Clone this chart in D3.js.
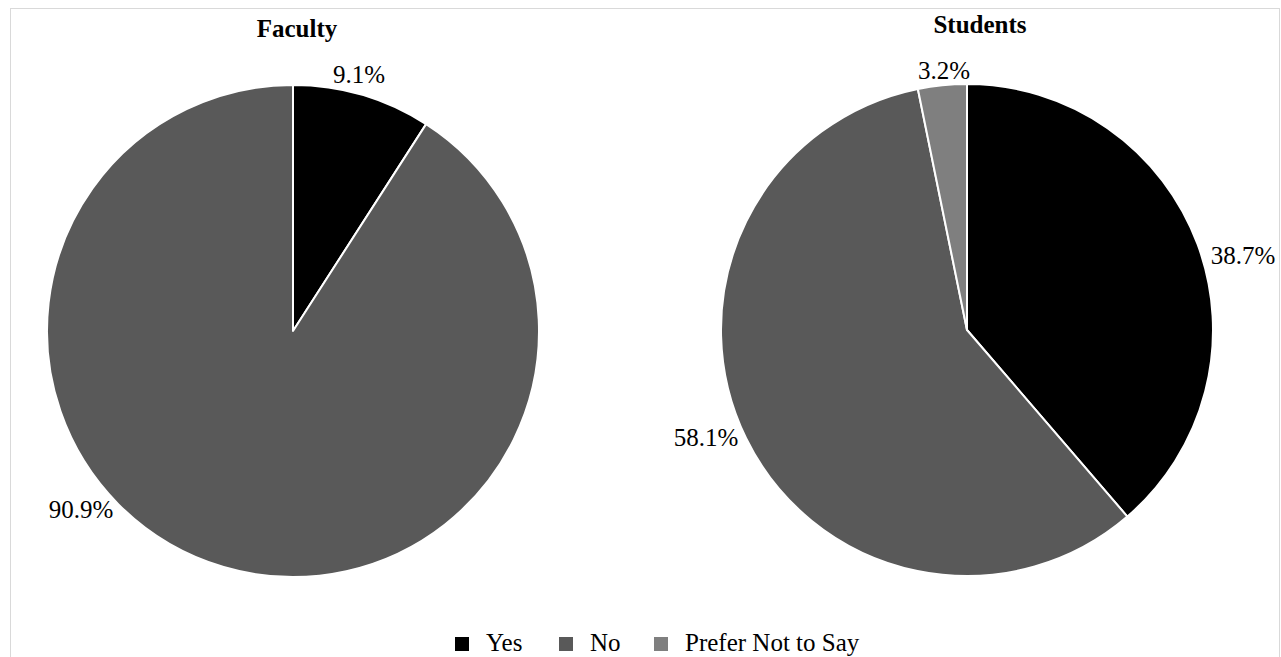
<!DOCTYPE html>
<html>
<head>
<meta charset="utf-8">
<script src="https://cdn.jsdelivr.net/npm/d3@7"></script>
<style>
  html, body { margin: 0; padding: 0; background: #fff; }
  svg { display: block; }
</style>
</head>
<body>
<svg id="chart" width="1281" height="657"></svg>
<script>
// ---- data ----
const categories = ["Yes", "No", "Prefer Not to Say"];
const chartTitles = ["Faculty", "Students"];
const facultyValues = [9.1, 90.9, 0];
const studentValues = [38.7, 58.1, 3.2];
const colors = ["#000000", "#595959", "#7f7f7f"];

// ---- layout (not data) ----
const W = 1281, H = 657;
const FONT = "'Liberation Serif', 'Times New Roman', serif";
const panels = [
  { values: facultyValues, cx: 293, cy: 331, r: 246, titleX: 297, titleY: 37,
    labelOffsets: [[66, -257], [-212, 178], null] },
  { values: studentValues, cx: 967, cy: 330, r: 246, titleX: 980, titleY: 33,
    labelOffsets: [[276, -75], [-261, 107], [-23, -260]] }
];

const svg = d3.select("#chart");

// outer border
svg.append("rect")
  .attr("x", 10.5).attr("y", 8.5)
  .attr("width", 1269).attr("height", 700)
  .attr("fill", "#fff")
  .attr("stroke", "#d9d9d9").attr("stroke-width", 1);

const pie = d3.pie().sort(null).value(d => d);

panels.forEach((p, pi) => {
  const g = svg.append("g").attr("transform", `translate(${p.cx},${p.cy})`);
  const arc = d3.arc().innerRadius(0).outerRadius(p.r);
  const arcs = pie(p.values);

  g.selectAll("path.slice")
    .data(arcs.filter(a => a.value > 0))
    .join("path")
    .attr("class", "slice")
    .attr("d", arc)
    .attr("fill", d => colors[d.index])
    .attr("stroke", "#ffffff")
    .attr("stroke-width", 2)
    .attr("stroke-linejoin", "round");

  g.selectAll("text.lbl")
    .data(arcs.filter(a => a.value > 0 && p.labelOffsets[a.index]))
    .join("text")
    .attr("class", "lbl")
    .attr("x", d => p.labelOffsets[d.index][0])
    .attr("y", d => p.labelOffsets[d.index][1])
    .attr("text-anchor", "middle")
    .attr("dominant-baseline", "central")
    .attr("font-family", FONT)
    .attr("font-size", 25)
    .attr("fill", "#000")
    .text(d => d3.format(".1f")(d.value) + "%");

  svg.append("text")
    .attr("x", p.titleX).attr("y", p.titleY)
    .attr("text-anchor", "middle")
    .attr("font-family", FONT)
    .attr("font-size", 25)
    .attr("font-weight", "bold")
    .attr("fill", "#000")
    .text(chartTitles[pi]);
});

// legend
const legendX = [455, 559, 654];
const legend = svg.append("g");
categories.forEach((c, i) => {
  legend.append("rect")
    .attr("x", legendX[i]).attr("y", 637)
    .attr("width", 14).attr("height", 14)
    .attr("fill", colors[i]);
  legend.append("text")
    .attr("x", legendX[i] + 31).attr("y", 651)
    .attr("font-family", FONT)
    .attr("font-size", 25)
    .attr("fill", "#000")
    .text(c);
});
</script>
</body>
</html>
